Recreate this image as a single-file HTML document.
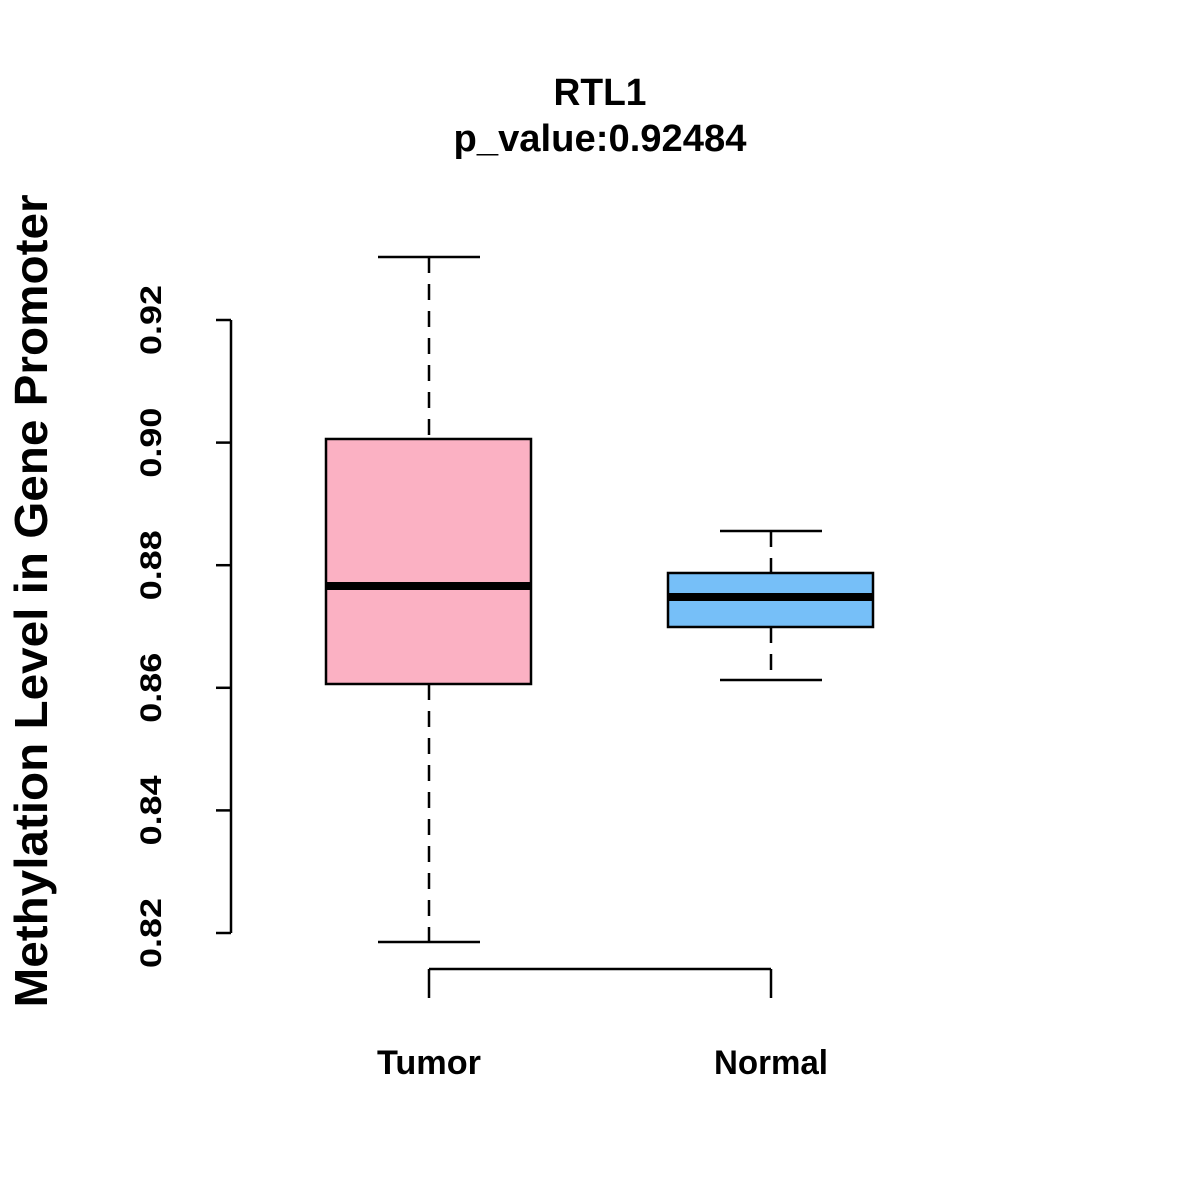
<!DOCTYPE html>
<html><head><meta charset="utf-8"><style>
html,body{margin:0;padding:0;background:#fff;}
svg{display:block;font-family:"Liberation Sans",Arial,sans-serif;font-weight:bold;}
</style></head><body>
<svg id="chart" width="1200" height="1200" viewBox="0 0 1200 1200">
<text x="600" y="105" text-anchor="middle" font-size="38" textLength="93" lengthAdjust="spacingAndGlyphs">RTL1</text>
<text x="600" y="151" text-anchor="middle" font-size="38" textLength="293" lengthAdjust="spacingAndGlyphs">p_value:0.92484</text>
<text transform="translate(47,601) rotate(-90)" text-anchor="middle" font-size="46" textLength="813" lengthAdjust="spacingAndGlyphs">Methylation Level in Gene Promoter</text>
<g id="plot"></g>
</svg>
<script>
const categories = ["Tumor", "Normal"];
const whiskerHigh = [0.93028, 0.88558];
const q3 = [0.90059, 0.87873];
const medians = [0.87661, 0.87481];
const q1 = [0.86062, 0.86992];
const whiskerLow = [0.81853, 0.86127];
const fills = ["#FBB1C3", "#76BFF8"];
const yTicks = [0.82, 0.84, 0.86, 0.88, 0.90, 0.92];
const yTickLabels = ["0.82", "0.84", "0.86", "0.88", "0.90", "0.92"];

const NS = "http://www.w3.org/2000/svg";
const g = document.getElementById("plot");
function y(v){ return 320 + (0.92 - v) * 6130; }
function x(i){ return 429 + i * 342; }
function mk(tag, attrs){
  const e = document.createElementNS(NS, tag);
  for (const k in attrs) e.setAttribute(k, attrs[k]);
  g.appendChild(e); return e;
}
let ax = mk("line",{x1:231,x2:231,y1:y(yTicks[yTicks.length-1]),y2:y(yTicks[0]),stroke:"#000","stroke-width":2.5});


yTicks.forEach((t,i)=>{
  const tk = mk("line",{x1:216,x2:231,y1:y(t),y2:y(t),stroke:"#000","stroke-width":2.5});
  
  
  const lb = mk("text",{transform:`translate(161,${y(t)}) rotate(-90)`,"text-anchor":"middle","font-size":30,textLength:70,lengthAdjust:"spacingAndGlyphs"});
  lb.textContent = yTickLabels[i];
  
  
});
let xa = mk("line",{x1:x(0),x2:x(categories.length-1),y1:969,y2:969,stroke:"#000","stroke-width":2.5});


const labelW = [104, 114];
categories.forEach((c,i)=>{
  const cx = x(i);
  const tk = mk("line",{x1:cx,x2:cx,y1:969,y2:998,stroke:"#000","stroke-width":2.5});
  
  
  const lb = mk("text",{x:cx,y:1074,"text-anchor":"middle","font-size":34,textLength:labelW[i],lengthAdjust:"spacingAndGlyphs"});
  lb.textContent = c;
  
  
  const w1 = mk("line",{x1:cx,x2:cx,y1:y(whiskerHigh[i]),y2:y(q3[i]),stroke:"#000","stroke-width":2.5,"stroke-dasharray":"16,11"});
  
  
  const w2 = mk("line",{x1:cx,x2:cx,y1:y(q1[i]),y2:y(whiskerLow[i]),stroke:"#000","stroke-width":2.5,"stroke-dasharray":"16,11"});
  
  
  const c1 = mk("line",{x1:cx-51,x2:cx+51,y1:y(whiskerHigh[i]),y2:y(whiskerHigh[i]),stroke:"#000","stroke-width":2.5});
  
  
  const c2 = mk("line",{x1:cx-51,x2:cx+51,y1:y(whiskerLow[i]),y2:y(whiskerLow[i]),stroke:"#000","stroke-width":2.5});
  
  
  const b = mk("rect",{x:cx-103,y:y(q3[i]),width:205,height:y(q1[i])-y(q3[i]),fill:fills[i],stroke:"#000","stroke-width":2.5});
  
  
  const m = mk("line",{x1:cx-103,x2:cx+102,y1:y(medians[i]),y2:y(medians[i]),stroke:"#000","stroke-width":8});
  
  
});
</script>
</body></html>
